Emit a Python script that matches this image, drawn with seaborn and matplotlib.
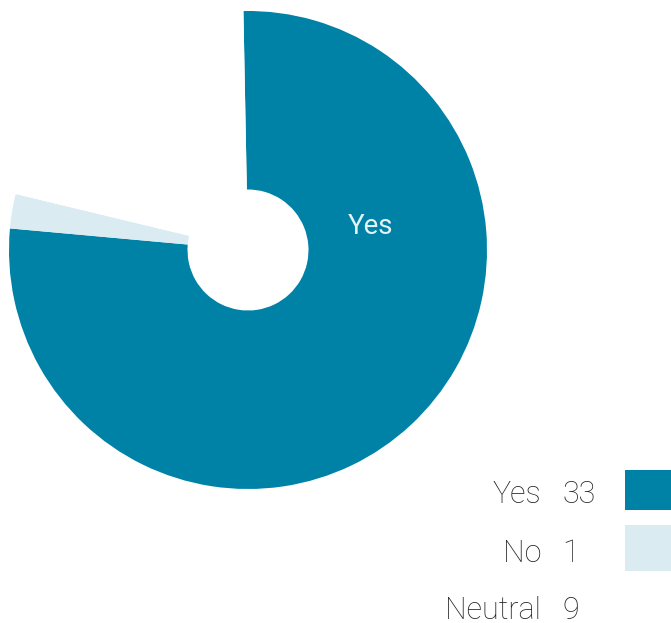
import matplotlib
matplotlib.use("Agg")
import matplotlib.pyplot as plt
from matplotlib.patches import Rectangle
import seaborn as sns

# ---- data ----
categories = ["Yes", "No", "Neutral"]
counts = [33, 1, 9]
colors = ["#0082A7", "#DAEBF1", "#FFFFFF"]
slice_label = "Yes"

sns.set_theme(style="white")
plt.rcParams["font.family"] = ["Roboto", "DejaVu Sans"]

W, H = 671, 623
fig = plt.figure(figsize=(W / 100, H / 100), dpi=100)
ax = fig.add_axes([0, 0, 1, 1])

cx, cy, R, r_in = 248, H - 250, 239, 60.5
ax.pie(counts, colors=colors, startangle=91.1, counterclock=False,
       center=(cx, cy), radius=R, frame=True,
       wedgeprops=dict(width=R - r_in, linewidth=0))
ax.set_xlim(0, W)
ax.set_ylim(0, H)
ax.set_aspect("equal")
ax.axis("off")

# label inside the donut
ax.text(371, H - 227, slice_label, ha="center", va="center",
        fontsize=20, color="#E3F3F8")

# legend (custom layout: label, value, swatch)
row_base = [503, 562, 619]
sw_top = [470, 525, 582]
sw_h = [40, 46, 46]
for i, (cat, val, col) in enumerate(zip(categories, counts, colors)):
    ax.text(541, H - row_base[i], cat, ha="right", va="baseline",
            fontsize=22, color="#262626", fontweight="light")
    ax.text(562, H - row_base[i], str(val), ha="left", va="baseline",
            fontsize=22, color="#262626", fontweight="light")
    ax.add_patch(Rectangle((625, H - sw_top[i] - sw_h[i]), 60, sw_h[i],
                           facecolor=col, edgecolor="none", clip_on=False))

fig.savefig("out.png", dpi=100)
